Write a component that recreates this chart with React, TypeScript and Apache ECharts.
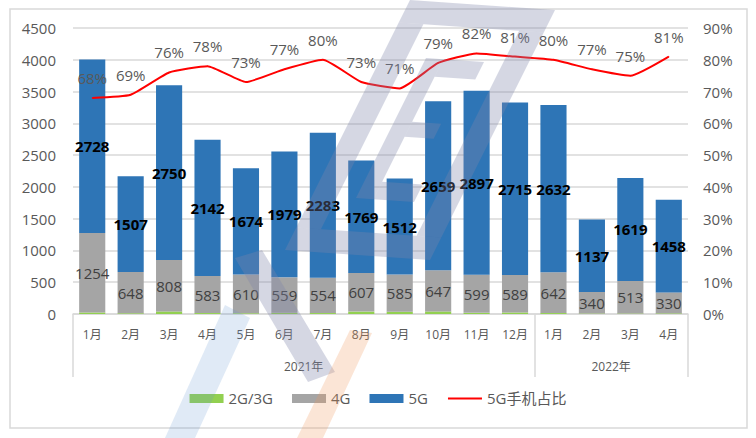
import React, { useEffect, useRef } from "react";
import * as echarts from "echarts";

const months = ["1月", "2月", "3月", "4月", "5月", "6月", "7月", "8月", "9月", "10月", "11月", "12月", "1月", "2月", "3月", "4月"];
const yearLabels: Record<number, string> = { 6: "2021年", 14: "2022年" };
const yearBoundaries = [0, 12];
const g23 = [22, 12, 40, 15, 10, 18, 15, 38, 35, 40, 18, 25, 15, 8, 8, 10];
const g4 = [1254, 648, 808, 583, 610, 559, 554, 607, 585, 647, 599, 589, 642, 340, 513, 330];
const g5 = [2728, 1507, 2750, 2142, 1674, 1979, 2283, 1769, 1512, 2659, 2897, 2715, 2632, 1137, 1619, 1458];
const share = [0.68, 0.69, 0.76, 0.78, 0.73, 0.77, 0.80, 0.73, 0.71, 0.79, 0.82, 0.81, 0.80, 0.77, 0.75, 0.81];

const FONT = '"Open Sans", "Noto Sans CJK SC", sans-serif';
const GREY = "#595959";
const WM = "rgba(126,135,170,0.33)";
const WM_BLUE = "rgba(100,150,210,0.2)";
const WM_ORANGE = "rgba(240,150,90,0.25)";

function band(points: number[][], fill: string) {
  return { type: "polygon", shape: { points }, style: { fill }, silent: true, z: 50 };
}
// watermark: a skewed frame, mapped from unit square (s, t)
const WM_TL = [410, 0];
const WM_DS = [145, 10];
const WM_DT = [-125, 250];
function P(s: number, t: number) {
  return [WM_TL[0] + s * WM_DS[0] + t * WM_DT[0], WM_TL[1] + s * WM_DS[1] + t * WM_DT[1]];
}
function q(s0: number, s1: number, t0: number, t1: number) {
  return band([P(s0, t0), P(s1, t0), P(s1, t1), P(s0, t1)], WM);
}
const wmParts = [
  q(0, 1, 0, 0.09),
  q(0, 1, 0.91, 1),
  q(0, 0.17, 0.09, 0.91),
  q(0.83, 1, 0.09, 0.91),
  q(0.3, 0.42, 0.22, 0.78),
  q(0.42, 0.7, 0.22, 0.29),
  q(0.42, 0.62, 0.47, 0.53),
  q(0.42, 0.7, 0.71, 0.78),
];

export default function App() {
  const ref = useRef<HTMLDivElement>(null);
  useEffect(() => {
    const chart = echarts.init(ref.current!, undefined, { renderer: "svg" });
    chart.setOption({
      animation: false,
      backgroundColor: "#ffffff",
      textStyle: { fontFamily: FONT },
      graphic: [
        {
          type: "rect",
          shape: { x: 10, y: 9, width: 737, height: 419 },
          style: { fill: "none", stroke: "#d9d9d9", lineWidth: 1.5 },
          z: -10,
        },
        ...wmParts,
        band([[235, 258], [262, 250], [335, 372], [308, 382]], WM),
        band([[297, 438], [323, 438], [372, 333], [350, 330]], WM_ORANGE),
        band([[165, 438], [195, 438], [250, 318], [225, 305]], WM_BLUE),
      ],
      grid: { left: 73, right: 68, top: 28, bottom: 124 },
      legend: {
        bottom: 27,
        left: "center",
        itemWidth: 34,
        itemHeight: 9,
        itemGap: 19,
        textStyle: { fontSize: 15, color: GREY, fontFamily: FONT },
        data: [
          { name: "2G/3G", icon: "rect" },
          { name: "4G", icon: "rect" },
          { name: "5G", icon: "rect" },
          { name: "5G手机占比", itemStyle: { opacity: 0 } },
        ],
      },
      xAxis: [
        {
          type: "category",
          data: months,
          axisLine: { lineStyle: { color: "#d9d9d9", width: 1.5 } },
          axisTick: {
            show: true,
            length: 63,
            interval: (i: number) => yearBoundaries.includes(i),
            lineStyle: { color: "#d9d9d9", width: 1.5 },
          },
          axisLabel: { color: GREY, fontSize: 12, margin: 14, interval: 0, fontFamily: FONT },
        },
        {
          type: "value",
          position: "bottom",
          min: 0,
          max: months.length,
          interval: 2,
          axisLine: { show: false },
          axisTick: { show: false },
          splitLine: { show: false },
          axisLabel: {
            color: GREY,
            fontSize: 12,
            margin: 46,
            fontFamily: FONT,
            formatter: (v: number) => yearLabels[v] || "",
          },
        },
      ],
      yAxis: [
        {
          type: "value",
          min: 0,
          max: 4500,
          interval: 500,
          axisLine: { show: false },
          axisTick: { show: false },
          splitLine: { lineStyle: { color: "#d9d9d9", width: 1.5 } },
          axisLabel: { color: GREY, fontSize: 15, margin: 17, fontFamily: FONT, formatter: (v: number) => String(v) },
        },
        {
          type: "value",
          min: 0,
          max: 0.9,
          interval: 0.1,
          axisLine: { show: false },
          axisTick: { show: false },
          splitLine: { show: false },
          axisLabel: {
            color: GREY,
            fontSize: 15,
            margin: 15,
            fontFamily: FONT,
            formatter: (v: number) => Math.round(v * 100) + "%",
          },
        },
      ],
      series: [
        {
          name: "2G/3G",
          type: "bar",
          stack: "t",
          data: g23,
          barWidth: "68%",
          itemStyle: { color: "#92D050" },
        },
        {
          name: "4G",
          type: "bar",
          stack: "t",
          data: g4,
          itemStyle: { color: "#A5A5A5" },
          label: { show: true, position: "inside", color: "#404040", fontSize: 15, fontFamily: FONT },
        },
        {
          name: "5G",
          type: "bar",
          stack: "t",
          data: g5,
          itemStyle: { color: "#2E75B6" },
          label: { show: true, position: "inside", color: "#000000", fontSize: 15, fontWeight: "bold", fontFamily: FONT },
        },
        {
          name: "5G手机占比",
          type: "line",
          yAxisIndex: 1,
          data: share,
          symbol: "circle",
          symbolSize: 1,
          showSymbol: true,
          smooth: 0.15,
          z: 5,
          lineStyle: { color: "#FF0000", width: 2 },
          itemStyle: { color: "#FF0000" },
          label: {
            show: true,
            position: "top",
            distance: 12,
            color: GREY,
            fontSize: 15,
            fontFamily: FONT,
            formatter: (p: any) => Math.round(p.value * 100) + "%",
          },
        },
      ],
    });
    return () => chart.dispose();
  }, []);
  return <div ref={ref} style={{ position: "absolute", left: 0, top: 0, width: 756, height: 438 }} />;
}
